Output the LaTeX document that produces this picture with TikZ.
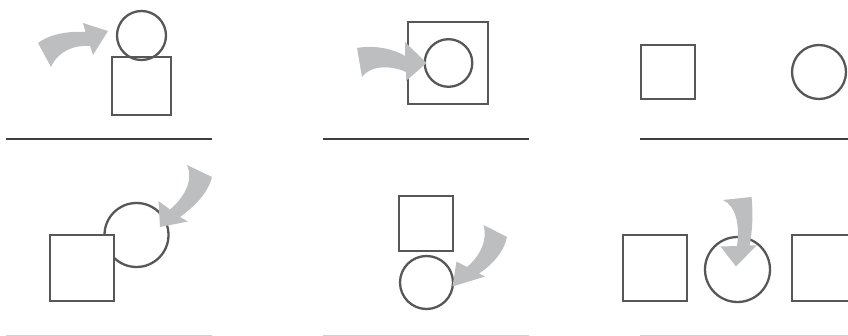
\documentclass[tikz,border=0pt]{standalone}
\definecolor{shp}{HTML}{575757}
\definecolor{rule}{HTML}{3E3E3E}
\definecolor{arr}{HTML}{BCBEC0}
\definecolor{faint}{HTML}{D0D0D0}
\tikzset{
  sq/.style={draw=shp, line width=2.6pt, fill=white, inner sep=0pt, rectangle},
  sqo/.style={draw=shp, line width=2.6pt, inner sep=0pt, rectangle},
  circ/.style={draw=shp, line width=2.3pt, inner sep=0pt, circle},
  rulel/.style={draw=rule, line width=1.3pt},
  rulef/.style={draw=faint, line width=1.2pt},
  bentarrow/.style={fill=arr, draw=none}
}
\begin{document}
\begin{tikzpicture}[x=1pt, y=-1pt]
\useasboundingbox (0,0) rectangle (848,336);
% ---------- panel 1 ----------
\node[sqo, minimum width=59pt, minimum height=58pt] (s1) at (141.5,86) {};
\node[circ, minimum size=49pt] (c1) at (141.5,35.5) {};
\path[bentarrow] (38,43) .. controls (50,34) and (68,31) .. (85.5,32) -- (83,23) -- (108,31) -- (93,55) -- (90,46) .. controls (72,45) and (58,52) .. (51,67) -- cycle;
\coordinate (l1a) at (6,139); \coordinate (l1b) at (212,139);
\draw[rulel] (l1a) -- (l1b);
% ---------- panel 2 ----------
\node[sqo, minimum width=80pt, minimum height=82pt] (s2) at (448,63) {};
\node[circ, minimum size=47.6pt] (c2) at (448.5,63) {};
\path[bentarrow] (357,48) .. controls (372,45) and (392,48) .. (405,56) -- (405,42) -- (426.5,63) -- (406,81) -- (406,72) .. controls (393,66) and (372,64) .. (362,77) -- cycle;
\coordinate (l2a) at (323,139); \coordinate (l2b) at (529,139);
\draw[rulel] (l2a) -- (l2b);
% ---------- panel 3 ----------
\node[sqo, minimum width=54pt, minimum height=54pt] (s3) at (668,72) {};
\node[circ, minimum size=54pt] (c3) at (819,72) {};
\coordinate (l3a) at (640,139); \coordinate (l3b) at (848,139);
\draw[rulel] (l3a) -- (l3b);
% ---------- panel 4 ----------
\node[circ, minimum size=64pt] (c4) at (136.5,235) {};
\node[sq, minimum width=64pt, minimum height=66pt] (s4) at (82,268) {};
\path[bentarrow] (187,165) .. controls (193,178) and (187,195) .. (170,209.5) -- (158.5,201) -- (160,227) -- (188,221.5) -- (180,217) .. controls (195,206) and (208,193) .. (212,177) -- cycle;
\coordinate (l4a) at (6,335.5); \coordinate (l4b) at (212,335.5);
\draw[rulef] (l4a) -- (l4b);
% ---------- panel 5 ----------
\node[sqo, minimum width=54pt, minimum height=55pt] (s5) at (426,223.5) {};
\node[circ, minimum size=53pt] (c5) at (426.5,282.5) {};
\path[bentarrow] (483.5,225) .. controls (488,240) and (480,256) .. (467,267) -- (456.5,261.5) -- (452.5,286.5) -- (485,276.5) -- (479,273.5) .. controls (492,265) and (504,252) .. (507,237) -- cycle;
\coordinate (l5a) at (323,335.5); \coordinate (l5b) at (529,335.5);
\draw[rulef] (l5a) -- (l5b);
% ---------- panel 6 ----------
\node[sqo, minimum width=64pt, minimum height=66pt] (s6a) at (655,268) {};
\node[circ, minimum size=65pt] (c6) at (737.5,269.5) {};
\node[sqo, minimum width=66pt, minimum height=66pt] (s6b) at (825,268) {};
\path[bentarrow] (723,200) .. controls (736,206) and (740,225) .. (737,246) -- (720.5,246.5) -- (736,266.5) -- (756.5,245.5) -- (749.5,245.5) .. controls (753,228) and (753,210) .. (751.5,197) -- cycle;
\coordinate (l6a) at (640,335.5); \coordinate (l6b) at (848,335.5);
\draw[rulef] (l6a) -- (l6b);
\end{tikzpicture}
\end{document}
